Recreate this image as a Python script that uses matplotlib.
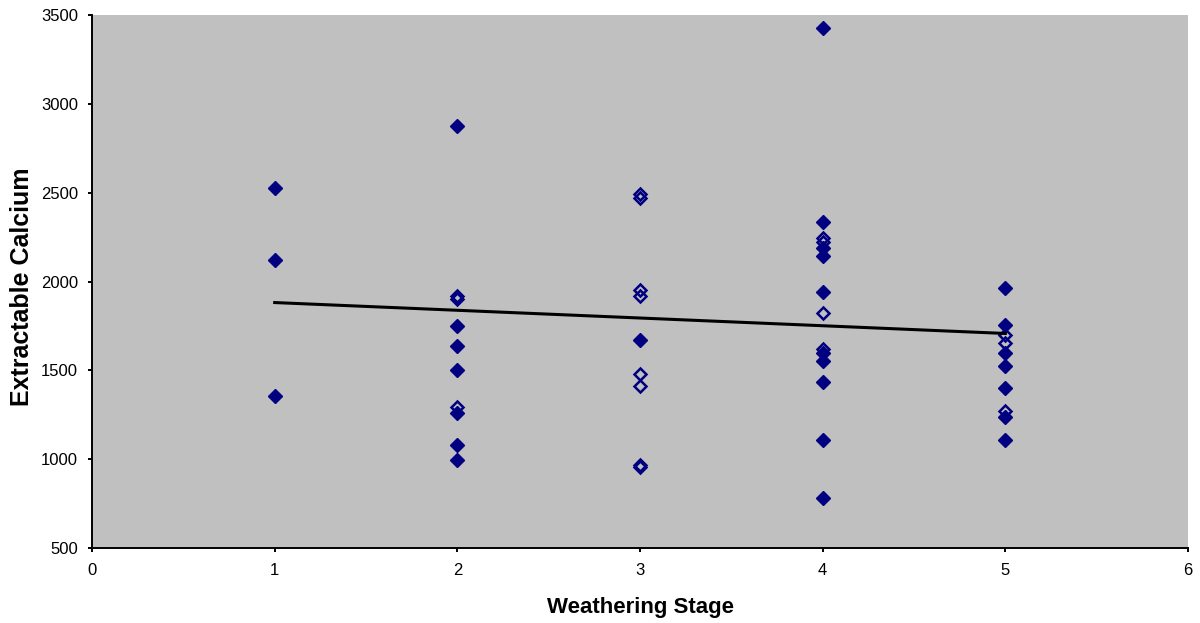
import numpy as np
import matplotlib.pyplot as plt

plt.rcParams["font.family"] = ["Liberation Sans", "DejaVu Sans"]

# filled diamonds
filled_stage = [1, 1, 1,
                2, 2, 2, 2, 2, 2, 2,
                3,
                4, 4, 4, 4, 4, 4, 4, 4, 4, 4,
                5, 5, 5, 5, 5, 5, 5]
filled_calcium = [2525, 2120, 1355,
                  2875, 1750, 1637, 1502, 1262, 1078, 995,
                  1671,
                  3425, 2335, 2190, 2145, 1943, 1596, 1552, 1436, 1110, 783,
                  1965, 1755, 1596, 1522, 1402, 1240, 1108]

# open diamonds
open_stage = [2, 2, 2,
              3, 3, 3, 3, 3, 3, 3, 3,
              4, 4, 4, 4,
              5, 5, 5]
open_calcium = [1920, 1900, 1292,
                2490, 2472, 1950, 1920, 1482, 1412, 965, 955,
                2245, 2222, 1824, 1618,
                1700, 1656, 1270]

# linear trend line
trend_intercept = 1925
trend_slope = -43.5
trend_range = [1, 5]

NAVY = "#000080"

fig = plt.figure(figsize=(12, 6.23), dpi=100)
ax = fig.add_axes([0.0767, 0.1204, 0.9133, 0.8555])
ax.set_facecolor("#C0C0C0")

ax.plot(filled_stage, filled_calcium, linestyle="none", marker="D",
        markersize=7, color=NAVY, markeredgecolor=NAVY, zorder=3)
ax.plot(open_stage, open_calcium, linestyle="none", marker="D",
        markersize=6.3, markerfacecolor="none", markeredgecolor=NAVY,
        markeredgewidth=1.8, zorder=3)

tx = np.array(trend_range)
ax.plot(tx, trend_intercept + trend_slope * tx, color="black",
        linewidth=2.2, zorder=4)

ax.set_xlim(0, 6)
ax.set_ylim(500, 3500)
ax.set_xticks(range(0, 7))
ax.set_yticks(range(500, 3501, 500))
ax.tick_params(direction="out", length=3, width=1.4, labelsize=12, colors="black")
ax.tick_params(axis="x", pad=8)
ax.tick_params(axis="y", pad=7)

ax.spines["top"].set_visible(False)
ax.spines["right"].set_visible(False)
ax.spines["left"].set_linewidth(1.4)
ax.spines["bottom"].set_linewidth(1.4)

ax.set_xlabel("Weathering Stage", fontsize=16, fontweight="bold", va="center")
ax.xaxis.set_label_coords(0.5, -0.111)
ax.set_ylabel("Extractable Calcium", fontsize=18, fontweight="bold", va="center")
ax.yaxis.set_label_coords(-0.064, 0.49)

fig.savefig("out.png", dpi=100)
